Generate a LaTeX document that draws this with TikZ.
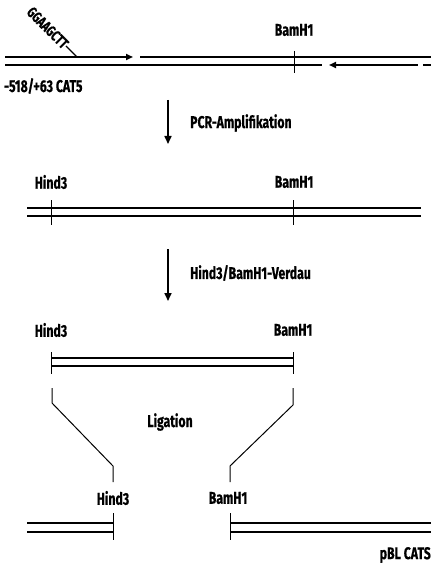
\documentclass[tikz,border=0pt]{standalone}
\usepackage{fontspec}
\newfontfamily\labfont[FakeStretch=0.72,BoldFeatures={FakeStretch=0.72,FakeBold=0.6}]{Fira Sans}
\usetikzlibrary{arrows.meta}
\begin{document}
\begin{tikzpicture}[x=1pt,y=-1pt,
  lab/.style={font=\labfont\bfseries\fontsize{17}{17}\selectfont, inner sep=0pt},
  strand/.style={line width=1.7pt},
  tick/.style={line width=1pt},
  proc/.style={line width=1.6pt,-{Triangle[length=8pt,width=7pt]}},
  lig/.style={line width=1pt}]
\useasboundingbox (0,0) rectangle (431,569);
% ---- top row
\coordinate (t1a) at (5,57);
\coordinate (t1b) at (133,57);
\coordinate (t1c) at (140,57);
\coordinate (t1d) at (431,57);
\coordinate (b1a) at (5,65);
\coordinate (b1b) at (322,65);
\coordinate (b1c) at (329,65);
\coordinate (b1d) at (418,65);
\coordinate (b1e) at (423,65);
\coordinate (b1f) at (431,65);
\draw[strand] (t1a) -- (75,57);
\draw[strand,-{Triangle[length=7pt,width=6pt]}] (75,57) -- (t1b);
\draw[strand] (t1c) -- (t1d);
\draw[strand] (b1a) -- (b1b);
\draw[strand,{Triangle[length=7pt,width=6pt]}-] (b1c) -- (b1d);
\draw[strand] (b1e) -- (b1f);
\node[lab,rotate=-45,anchor=east,font=\labfont\bfseries\fontsize{15}{15}\selectfont] (primer) at (66,46) {GGAAGCTT};
\coordinate (pk) at (77,57);
\draw[line width=1.2pt] (primer.east) -- (pk);
\node[lab] (bam1) at (294,30) {BamH1};
\draw[tick] (294,51) -- (294,73);
\node[lab,anchor=west] (cat) at (4,86) {-518/+63 CAT5};
% ---- arrow 1
\node[lab,anchor=west] (pcr) at (190,123) {PCR-Amplifikation};
\coordinate (a1s) at (168,100);
\coordinate (a1e) at (168,144);
\draw[proc] (a1s) -- (a1e);
% ---- second row
\node[lab] (h2) at (51,182) {Hind3};
\node[lab] (bam2) at (294,182) {BamH1};
\draw[strand] (27,208) -- (421,208);
\draw[strand] (27,216) -- (421,216);
\draw[tick] (51,200) -- (51,225);
\draw[tick] (293,200) -- (293,225);
% ---- arrow 2
\node[lab,anchor=west] (verd) at (190,273) {Hind3/BamH1-Verdau};
\coordinate (a2s) at (168,249);
\coordinate (a2e) at (168,301);
\draw[proc] (a2s) -- (a2e);
% ---- fragment
\node[lab] (h3) at (51,330) {Hind3};
\node[lab] (bam3) at (293,330) {BamH1};
\draw[strand] (51,358) -- (293,358);
\draw[strand] (51,366) -- (293,366);
\draw[tick] (51,352) -- (51,374);
\draw[tick] (293,352) -- (293,374);
% ---- ligation
\node[lab] (ligt) at (170,422) {Ligation};
\draw[lig] (52,388) -- (52,403) -- (113,466) -- (113,482);
\draw[lig] (293,388) -- (293,405) -- (230,466) -- (230,482);
% ---- vector
\node[lab] (h4) at (113,498) {Hind3};
\node[lab] (bam4) at (228,498) {BamH1};
\draw[strand] (27,523) -- (113,523);
\draw[strand] (27,532) -- (113,532);
\draw[tick] (113,513) -- (113,540);
\draw[strand] (230,523) -- (431,523);
\draw[strand] (230,532) -- (431,532);
\draw[tick] (230,513) -- (230,540);
\node[lab,anchor=east] (pbl) at (431,555) {pBL CATS};
\end{tikzpicture}
\end{document}
